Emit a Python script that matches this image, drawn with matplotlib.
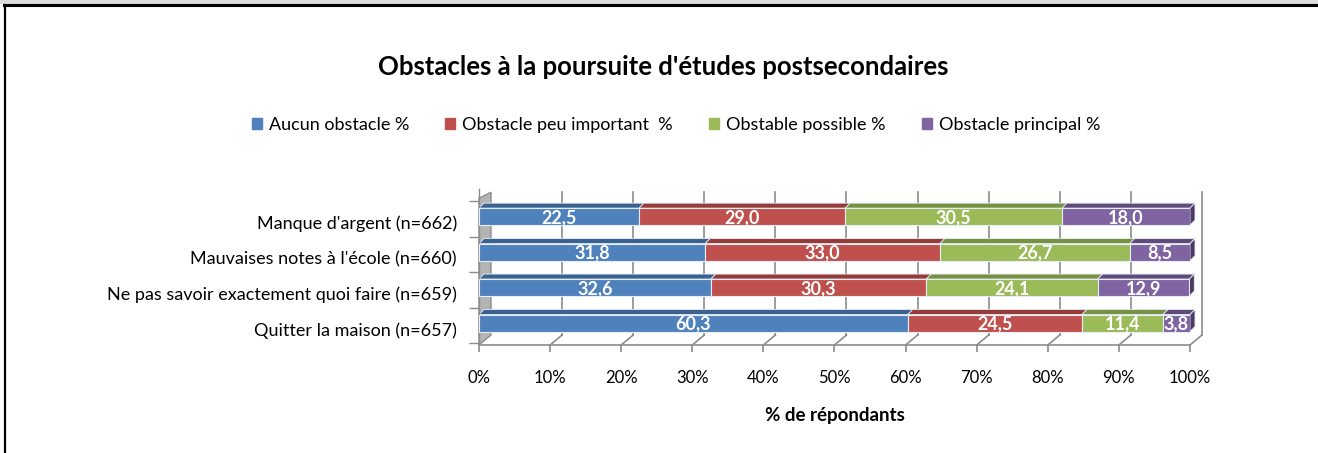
import matplotlib
matplotlib.use("Agg")
import matplotlib.pyplot as plt
from matplotlib.patches import Polygon, Rectangle
from matplotlib.lines import Line2D

plt.rcParams['font.family'] = ['Lato', 'DejaVu Sans']

categories = ["Quitter la maison (n=657)",
              "Ne pas savoir exactement quoi faire (n=659)",
              "Mauvaises notes à l'école (n=660)",
              "Manque d'argent (n=662)"]
series = ["Aucun obstacle %", "Obstacle peu important  %",
          "Obstable possible %", "Obstacle principal %"]
aucun = [60.3, 32.6, 31.8, 22.5]
peu = [24.5, 30.3, 33.0, 29.0]
possible = [11.4, 24.1, 26.7, 30.5]
principal = [3.8, 12.9, 8.5, 18.0]
values = [aucun, peu, possible, principal]

front = ['#4F81BD', '#C0504D', '#9BBB59', '#8064A2']
top = ['#3A6290', '#963B38', '#76913F', '#5F4A7A']
side = ['#2E4E75', '#7A2F2D', '#5E7432', '#4B3A61']

W, H = 1318, 453
fig = plt.figure(figsize=(W / 100, H / 100), dpi=100)

# figure frame like the source document
fig.add_artist(Rectangle((0, 1 - 4 / H), 1, 4 / H, transform=fig.transFigure,
                         color='#DCDCDC', lw=0))
fig.add_artist(Line2D([4 / W, 1], [1 - 5 / H, 1 - 5 / H], transform=fig.transFigure,
                      color='black', lw=2.2))
fig.add_artist(Line2D([5 / W, 5 / W], [0, 1 - 5 / H], transform=fig.transFigure,
                      color='black', lw=1.6))

x0, x1 = 479, 1190
ybot, ytop = 345, 189
ax = fig.add_axes([x0 / W, (H - ybot) / H, (x1 - x0) / W, (ybot - ytop) / H])
ylo, yhi = -0.62, 3.78
ax.set_xlim(0, 100)
ax.set_ylim(ylo, yhi)

pxx = (x1 - x0) / 100.0
pxy = (ybot - ytop) / (yhi - ylo)
dxw, dyw = 12 / pxx, 10 / pxy   # wall depth
dxb, dyb = 5 / pxx, 5 / pxy     # bar depth
h = 0.48

# back wall grid, floor and left wall
grid_c = '#8C8C8C'
for t in range(10, 101, 10):
    ax.plot([t + dxw, t + dxw], [ylo + dyw, 3.69], color=grid_c, lw=1.2, zorder=1, clip_on=False)
    ax.plot([t, t + dxw], [ylo, ylo + dyw], color=grid_c, lw=1.2, zorder=1, clip_on=False)
ax.add_patch(Polygon([(0, ylo), (0, 3.52), (dxw, 3.69), (dxw, ylo + dyw)],
                     closed=True, facecolor='#B4B4B4', edgecolor='#8C8C8C', lw=1,
                     zorder=1, clip_on=False))

ypos = list(range(len(categories)))
for i in ypos:
    left = 0.0
    for s in range(len(series)):
        v = values[s][i]
        ax.barh(i, v, left=left, height=h, color=front[s], edgecolor='#E4ECF6',
                lw=0.8, zorder=3)
        t = i + h / 2
        ax.add_patch(Polygon([(left, t), (left + v, t), (left + v + dxb, t + dyb),
                              (left + dxb, t + dyb)], closed=True, facecolor=top[s],
                             edgecolor='#E4ECF6', lw=0.6, zorder=2.5, clip_on=False))
        ax.text(left + v / 2, i - 0.03, f"{v:.1f}".replace('.', ','), ha='center',
                va='center', color='white', fontweight='bold', fontsize=13, zorder=5)
        left += v
    b = i - h / 2
    ax.add_patch(Polygon([(left, b), (left, i + h / 2), (left + dxb, i + h / 2 + dyb),
                          (left + dxb, b + dyb)], closed=True, facecolor=side[-1],
                         edgecolor='#E4ECF6', lw=0.6, zorder=2.5, clip_on=False))

for sp in ['top', 'right']:
    ax.spines[sp].set_visible(False)
ax.spines['bottom'].set_color(grid_c)
ax.spines['bottom'].set_linewidth(1.2)
ax.spines['left'].set_color(grid_c)
ax.spines['left'].set_linewidth(1.0)

ax.set_xticks(range(0, 101, 10))
ax.set_xticklabels([f"{t}%" for t in range(0, 101, 10)], fontsize=12)
ax.tick_params(axis='x', length=5, color=grid_c, width=1.2, pad=13)
ax.set_yticks([i - 0.17 for i in ypos])
ax.set_yticklabels(categories, fontsize=13)
ax.tick_params(axis='y', length=0, pad=16)
ax.set_yticks([i - 0.57 for i in range(5)], minor=True)
ax.tick_params(axis='y', which='minor', length=7, color=grid_c, width=1.0)
ax.set_xlabel('% de répondants', fontweight='bold', fontsize=13.5, labelpad=15)

fig.text(663 / W, 1 - 67 / H, "Obstacles à la poursuite d'études postsecondaires",
         ha='center', va='center', fontsize=18.5, fontweight='bold')

handles = [Rectangle((0, 0), 1, 1, color=c) for c in front]
fig.legend(handles, series, loc='center', bbox_to_anchor=(676 / W, 1 - 125 / H), ncol=4,
           frameon=False, fontsize=13, handlelength=0.55, handleheight=0.55,
           columnspacing=2.0, handletextpad=0.4)

fig.savefig('out.png', dpi=100)
